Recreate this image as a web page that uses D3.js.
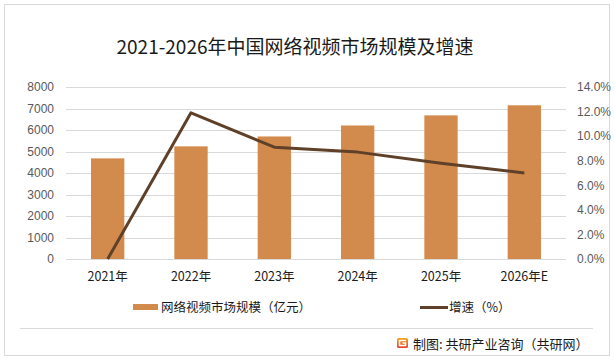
<!DOCTYPE html>
<html><head><meta charset="utf-8">
<script src="https://cdn.jsdelivr.net/npm/d3@7"></script>
<style>
html,body{margin:0;padding:0;background:#fff;}
svg text{font-family:"Noto Sans CJK SC","Microsoft YaHei",sans-serif;}
</style></head>
<body><svg id="c" width="615" height="362"></svg>
<script>
const categories = ["2021年","2022年","2023年","2024年","2025年","2026年E"];
const marketSize = [4680, 5240, 5700, 6210, 6680, 7150];
const growthRate = [0.0, 11.9, 9.1, 8.7, 7.8, 7.0];
const leftTicks = [0,1000,2000,3000,4000,5000,6000,7000,8000];
const rightTicks = [0,2,4,6,8,10,12,14];
const title = "2021-2026年中国网络视频市场规模及增速";
const legendLabels = ["网络视频市场规模（亿元）","增速（%）"];
const footer = "制图: 共研产业咨询（共研网）";

const svg = d3.select("#c");
svg.append("rect").attr("x",4.5).attr("y",4.5).attr("width",605).attr("height",351)
  .attr("fill","#fff").attr("stroke","#d9d9d9").attr("stroke-width",1);

const defs = svg.append("defs");
const grad = defs.append("linearGradient").attr("id","lg").attr("x1",0).attr("y1",0).attr("x2",0).attr("y2",1);
grad.append("stop").attr("offset","0%").attr("stop-color","#f7a21b");
grad.append("stop").attr("offset","100%").attr("stop-color","#e8402a");

const plot = {l:66,r:566,t:87,b:259};
const x = d3.scaleBand().domain(categories).range([plot.l,plot.r]).paddingInner(0.6).paddingOuter(0.3);
const yL = d3.scaleLinear().domain([0,8000]).range([plot.b,plot.t]);
const yR = d3.scaleLinear().domain([0,14]).range([plot.b,plot.t]);

// grid
svg.append("g").selectAll("line").data(leftTicks).join("line")
  .attr("x1",plot.l).attr("x2",plot.r)
  .attr("y1",d=>Math.round(yL(d))+0.5).attr("y2",d=>Math.round(yL(d))+0.5)
  .attr("stroke","#d9d9d9").attr("stroke-width",1);

// left axis
const gl = svg.append("g").attr("transform",`translate(${plot.l-2},0)`)
  .call(d3.axisLeft(yL).tickValues(leftTicks).tickSize(0).tickPadding(10).tickFormat(d3.format("d")));
gl.select(".domain").remove();
gl.selectAll("text").attr("fill","#595959").style("font-size","12px").style("font-family","'Liberation Sans',Arial,sans-serif");

// right axis
const gr = svg.append("g").attr("transform",`translate(${plot.r+2},0)`)
  .call(d3.axisRight(yR).tickValues(rightTicks).tickSize(0).tickPadding(9).tickFormat(d=>d.toFixed(1)+"%"));
gr.select(".domain").remove();
gr.selectAll("text").attr("fill","#595959").style("font-size","12px").style("font-family","'Liberation Sans',Arial,sans-serif");

// bars
svg.append("g").selectAll("rect").data(categories).join("rect")
  .attr("x",d=>x(d)).attr("width",x.bandwidth())
  .attr("y",(d,i)=>yL(marketSize[i])).attr("height",(d,i)=>plot.b-yL(marketSize[i]))
  .attr("fill","#d38b4d");

// x labels
const gx = svg.append("g").attr("transform",`translate(0,${plot.b})`)
  .call(d3.axisBottom(x).tickSize(0).tickPadding(13));
gx.select(".domain").remove();
gx.selectAll("text").attr("fill","#1a1a1a").style("font-size","12.5px");

// line
const line = d3.line().x((d,i)=>x(categories[i])+x.bandwidth()/2).y(d=>yR(d));
svg.append("path").datum(growthRate).attr("d",line)
  .attr("fill","none").attr("stroke","#5f4029").attr("stroke-width",3).attr("stroke-linejoin","round");

// title
svg.append("text").attr("x",295).attr("y",54).attr("text-anchor","middle")
  .style("font-size","19px").attr("fill","#1a1a1a").text(title);

// legend
svg.append("rect").attr("x",133).attr("y",304).attr("width",25).attr("height",6).attr("fill","#d38b4d");
svg.append("text").attr("x",161).attr("y",312).style("font-size","12.5px").attr("fill","#1a1a1a").text(legendLabels[0]);
svg.append("line").attr("x1",420).attr("x2",448).attr("y1",307.5).attr("y2",307.5).attr("stroke","#5f4029").attr("stroke-width",3);
svg.append("text").attr("x",449).attr("y",312).style("font-size","12.5px").attr("fill","#1a1a1a").text(legendLabels[1]);

// divider
svg.append("line").attr("x1",20).attr("x2",593).attr("y1",328.5).attr("y2",328.5).attr("stroke","#d9d9d9");

// footer logo
const lg = svg.append("g").attr("transform","translate(397,338)");
lg.append("rect").attr("width",11).attr("height",10).attr("rx",1.5).attr("fill","url(#lg)");
lg.append("path").attr("d","M9,2.5 H2.5 V7.5 H8.5 V5 H5.5").attr("fill","none").attr("stroke","#fff").attr("stroke-width",1.6);
svg.append("text").attr("x",413).attr("y",349).style("font-size","13px").attr("fill","#1a1a1a").text(footer);
</script></body></html>
